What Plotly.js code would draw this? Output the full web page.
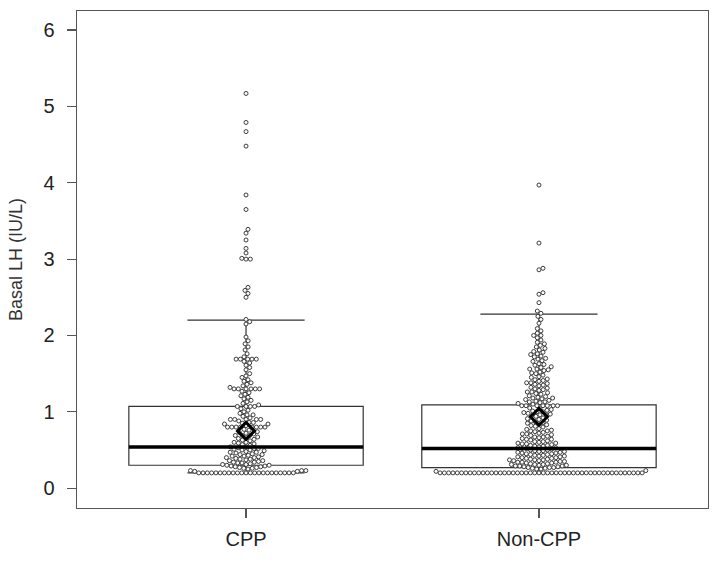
<!DOCTYPE html>
<html>
<head>
<meta charset="utf-8">
<script src="https://cdn.plot.ly/plotly-3.0.1.min.js"></script>
<style>html,body{margin:0;padding:0;background:#fff;}#chart{width:718px;height:564px;}</style>
</head>
<body>
<div id="chart"></div>
<script>
// ---------- data ----------
const categories = ['CPP', 'Non-CPP'];
const yTickValues = [0, 1, 2, 3, 4, 5, 6];
const yTitle = 'Basal LH (IU/L)';

// box statistics per group
const q1 = [0.30, 0.27];
const medians = [0.54, 0.52];
const q3 = [1.07, 1.09];
const lowerFence = [0.20, 0.20];
const upperFence = [2.20, 2.28];
const means = [0.75, 0.935];

// individual observations as [value, how many times it occurs]
const cppValueCounts = [
  [0.20,23],
  [0.22,2],[0.23,3],
  [0.25,1],[0.26,2],[0.27,2],[0.28,2],[0.29,2],
  [0.30,2],[0.31,2],[0.32,1],[0.33,2],[0.34,2],[0.35,1],[0.36,2],[0.37,1],[0.38,2],[0.39,1],
  [0.40,2],[0.41,1],[0.42,2],[0.43,1],[0.44,2],[0.45,1],[0.46,1],[0.47,2],[0.48,1],[0.49,1],
  [0.50,2],[0.51,1],[0.52,2],[0.53,1],[0.54,2],
  [0.56,1],[0.57,1],[0.58,1],[0.59,1],[0.60,2],[0.62,1],[0.63,1],[0.64,1],[0.65,1],[0.66,1],[0.67,1],
  [0.69,3],[0.71,1],[0.72,1],[0.73,1],[0.74,1],[0.76,1],[0.77,1],
  [0.80,8],
  [0.82,1],[0.84,2],[0.85,1],[0.86,2],[0.88,1],
  [0.90,5],
  [0.92,1],[0.94,1],[0.96,2],[0.98,1],[1.00,1],[1.02,1],[1.04,1],
  [1.07,4],
  [1.09,1],[1.11,1],[1.13,1],[1.15,1],[1.17,1],[1.19,1],[1.21,1],[1.23,1],[1.25,1],[1.27,1],
  [1.30,6],
  [1.32,1],[1.34,1],[1.36,1],[1.38,1],[1.40,1],[1.42,1],[1.45,1],[1.47,1],[1.50,1],
  [1.55,1],[1.58,1],[1.61,1],[1.64,1],[1.66,1],
  [1.69,5],
  [1.72,1],[1.76,1],[1.81,1],[1.85,1],[1.89,1],[1.93,1],[1.98,1],
  [2.15,1],[2.18,1],[2.21,1],
  [2.50,1],[2.55,1],[2.59,1],[2.63,1],[3.00,2],[3.01,1],[3.08,1],[3.14,1],[3.25,1],
  [3.34,1],[3.39,1],[3.65,1],[3.84,1],[4.48,1],[4.67,1],[4.79,1],[5.17,1]
];

const nonCppValueCounts = [
  [0.20,48],
  [0.22,1],[0.23,1],
  [0.25,2],[0.26,2],[0.27,3],[0.28,2],[0.29,3],
  [0.30,2],[0.31,3],[0.32,2],[0.33,2],[0.34,3],[0.35,2],[0.36,2],[0.37,3],[0.38,2],[0.39,2],[0.40,2],
  [0.41,2],[0.42,2],[0.43,2],[0.44,2],[0.45,2],[0.46,2],[0.47,2],[0.48,2],[0.49,2],[0.50,2],[0.51,1],[0.52,2],
  [0.53,2],[0.54,1],[0.55,2],[0.56,2],[0.57,1],[0.58,2],[0.59,2],[0.60,1],[0.61,2],[0.62,1],[0.63,1],[0.64,2],[0.65,1],
  [0.66,1],[0.67,2],[0.68,1],[0.69,1],[0.70,1],[0.71,2],[0.72,1],[0.73,1],[0.74,1],[0.75,2],[0.76,1],[0.77,1],[0.78,1],
  [0.80,1],[0.81,1],[0.82,1],[0.83,1],[0.84,1],[0.85,1],[0.86,1],[0.87,1],[0.88,1],[0.89,1],[0.90,1],[0.91,1],[0.92,1],
  [0.94,1],[0.95,1],[0.96,2],[0.97,1],[0.98,1],[0.99,1],[1.00,2],[1.01,1],[1.02,1],[1.03,1],[1.04,1],[1.05,1],
  [1.08,7],
  [1.10,1],[1.11,1],[1.12,1],[1.13,2],[1.14,1],[1.15,1],[1.16,1],[1.17,1],[1.18,2],[1.19,1],[1.20,1],[1.21,1],
  [1.23,1],[1.24,1],[1.25,1],[1.26,2],[1.28,1],[1.29,1],[1.30,1],[1.31,1],[1.32,1],[1.34,1],[1.35,1],
  [1.36,1],[1.37,1],[1.38,2],[1.40,1],[1.41,1],[1.42,1],[1.43,1],[1.45,1],[1.46,1],[1.48,1],[1.50,1],
  [1.51,1],[1.52,1],[1.54,1],[1.55,1],[1.56,2],[1.58,1],[1.59,1],[1.61,1],[1.62,1],[1.63,1],
  [1.66,1],[1.67,1],[1.69,1],[1.70,1],[1.72,1],[1.73,1],[1.75,1],[1.76,1],[1.78,1],[1.79,1],
  [1.81,1],[1.83,1],[1.85,1],[1.87,1],[1.89,1],[1.91,1],[1.94,1],
  [1.97,1],[2.00,2],[2.03,1],[2.06,1],[2.09,1],
  [2.16,1],[2.21,1],[2.25,1],[2.29,1],[2.32,1],
  [2.43,1],[2.54,1],[2.56,1],[2.86,1],[2.88,1],[3.21,1],[3.97,1]
];

// ---------- layout constants ----------
const W = 718, H = 564;
const margin = {l: 77, r: 10, t: 11, b: 56, pad: 0};
const xRange = [-0.577, 1.577];
const yRange = [-0.26, 6.25];
const boxWidth = 0.8;
const pointDiameter = 4.3;   // swarm spacing in px
const font = '"Liberation Sans", Arial, Helvetica, sans-serif';

const plotW = W - margin.l - margin.r;
const plotH = H - margin.t - margin.b;
const pxPerX = plotW / (xRange[1] - xRange[0]);
const pxPerY = plotH / (yRange[1] - yRange[0]);

function expand(pairs) {
  const out = [];
  pairs.forEach(([v, c]) => { for (let i = 0; i < c; i++) out.push(v); });
  return out;
}

// beeswarm ("swarm" method): sorted ascending, each point placed as close to the centre as possible
function swarm(values) {
  const vals = values.slice().sort((a, b) => a - b);
  const placed = [];
  const xs = [];
  const d = pointDiameter, d2 = d * d;
  vals.forEach(v => {
    const y = v * pxPerY;
    const near = placed.filter(p => Math.abs(p.y - y) < d);
    const cands = [0];
    near.forEach(p => {
      const dy = y - p.y;
      const dx = Math.sqrt(Math.max(d2 - dy * dy, 0));
      cands.push(p.x + dx, p.x - dx);
    });
    cands.sort((a, b) => Math.abs(a) - Math.abs(b));
    let chosen = 0;
    for (const c of cands) {
      let ok = true;
      for (const p of near) {
        const dx = c - p.x, dy = y - p.y;
        if (dx * dx + dy * dy < d2 - 1e-6) { ok = false; break; }
      }
      if (ok) { chosen = c; break; }
    }
    placed.push({x: chosen, y: y});
    xs.push(chosen / pxPerX);
  });
  return {x: xs, y: vals};
}

const groups = [expand(cppValueCounts), expand(nonCppValueCounts)];
const centres = categories.map((c, i) => i);

const traces = [];

// box + whiskers (thin)
traces.push({
  type: 'box',
  x: centres,
  q1: q1, median: medians, q3: q3,
  lowerfence: lowerFence, upperfence: upperFence,
  width: boxWidth,
  whiskerwidth: 0.5,
  boxpoints: false,
  line: {color: '#333333', width: 1.2},
  fillcolor: 'rgba(255,255,255,0)',
  hoverinfo: 'skip',
  showlegend: false
});

// swarm points
groups.forEach((vals, i) => {
  const s = swarm(vals);
  traces.push({
    type: 'scatter', mode: 'markers',
    x: s.x.map(dx => centres[i] + dx),
    y: s.y,
    marker: {symbol: 'circle', size: 4, color: '#ffffff', line: {color: '#3c3c3c', width: 1}},
    hoverinfo: 'skip', showlegend: false
  });
});

// thick median lines
const mx = [], my = [];
centres.forEach((c, i) => {
  mx.push(c - boxWidth / 2, c + boxWidth / 2, null);
  my.push(medians[i], medians[i], null);
});
traces.push({
  type: 'scatter', mode: 'lines', x: mx, y: my,
  line: {color: '#000000', width: 3.5},
  hoverinfo: 'skip', showlegend: false
});

// means as open diamonds
traces.push({
  type: 'scatter', mode: 'markers', x: centres, y: means,
  marker: {symbol: 'diamond-open', size: 13, color: '#000000', line: {color: '#000000', width: 3}},
  hoverinfo: 'skip', showlegend: false
});

const axisCommon = {
  showgrid: false, zeroline: false,
  showline: true, mirror: true, linecolor: '#555555', linewidth: 1.3,
  ticks: 'outside', ticklen: 9, tickwidth: 1.2, tickcolor: '#555555',
  tickfont: {family: font, size: 20, color: '#222222'}
};

const layout = {
  width: W, height: H, margin: margin,
  paper_bgcolor: '#ffffff', plot_bgcolor: '#ffffff',
  showlegend: false,
  font: {family: font, color: '#222222'},
  xaxis: Object.assign({}, axisCommon, {
    range: xRange, tickmode: 'array', tickvals: centres, ticktext: categories,
    ticklabelstandoff: 4
  }),
  yaxis: Object.assign({}, axisCommon, {
    range: yRange, tickmode: 'array', tickvals: yTickValues,
    ticktext: yTickValues.map(String),
    ticklabelstandoff: 8,
    title: {text: yTitle, font: {family: font, size: 18, color: '#333333'}, standoff: 16}
  })
};

Plotly.newPlot('chart', traces, layout, {staticPlot: true, displayModeBar: false});
</script>
</body>
</html>
